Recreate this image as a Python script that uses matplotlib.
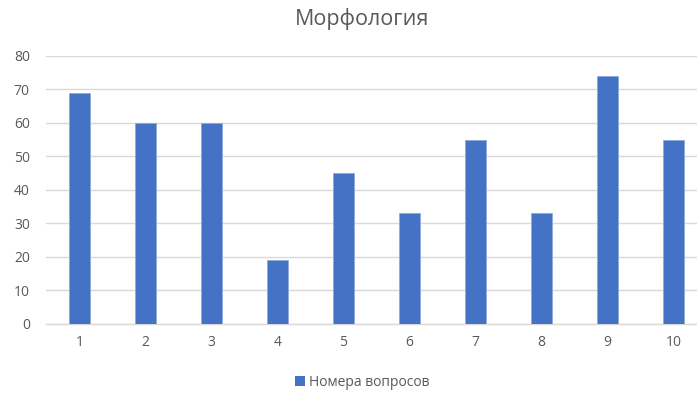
import matplotlib
matplotlib.use("Agg")
import matplotlib.pyplot as plt
from matplotlib.patches import Patch

plt.rcParams["font.family"] = ["Open Sans", "DejaVu Sans"]

questions = ["1", "2", "3", "4", "5", "6", "7", "8", "9", "10"]
scores = [69, 60, 60, 19, 45, 33, 55, 33, 74, 55]
yticks = [0, 10, 20, 30, 40, 50, 60, 70, 80]

BLUE = "#4472C4"
GRID = "#D9D9D9"
TEXT = "#595959"

fig = plt.figure(figsize=(6.97, 3.94), dpi=100)
# plot area runs slightly past the right edge of the figure
ax = fig.add_axes([0.0667, 0.1777, 0.947, 0.681])

x = list(range(len(questions)))
ax.bar(x, scores, width=0.32, color=BLUE, edgecolor="#8FAADC", linewidth=0.6, zorder=3)

ax.set_xlim(-0.5, len(questions) - 0.5)
ax.set_ylim(0, 80)
ax.set_yticks(yticks)
ax.set_xticks(x)
ax.set_xticklabels(questions)
ax.yaxis.grid(True, color=GRID, linewidth=1.0, zorder=0)
ax.set_axisbelow(True)
for s in ("top", "right", "left"):
    ax.spines[s].set_visible(False)
ax.spines["bottom"].set_color(GRID)
ax.spines["bottom"].set_linewidth(1.0)
ax.tick_params(axis="both", length=0, labelsize=10, colors=TEXT, pad=8)
ax.tick_params(axis="y", pad=12)

fig.text(0.52, 0.952, "Морфология", ha="center", va="center", fontsize=15.5, color=TEXT)

fig.legend(handles=[Patch(facecolor=BLUE, label="Номера вопросов")],
           loc="center", bbox_to_anchor=(0.52, 0.03), frameon=False,
           fontsize=10, labelcolor=TEXT, handlelength=0.7, handleheight=0.7,
           handletextpad=0.3)

fig.savefig("out.png", dpi=100)
